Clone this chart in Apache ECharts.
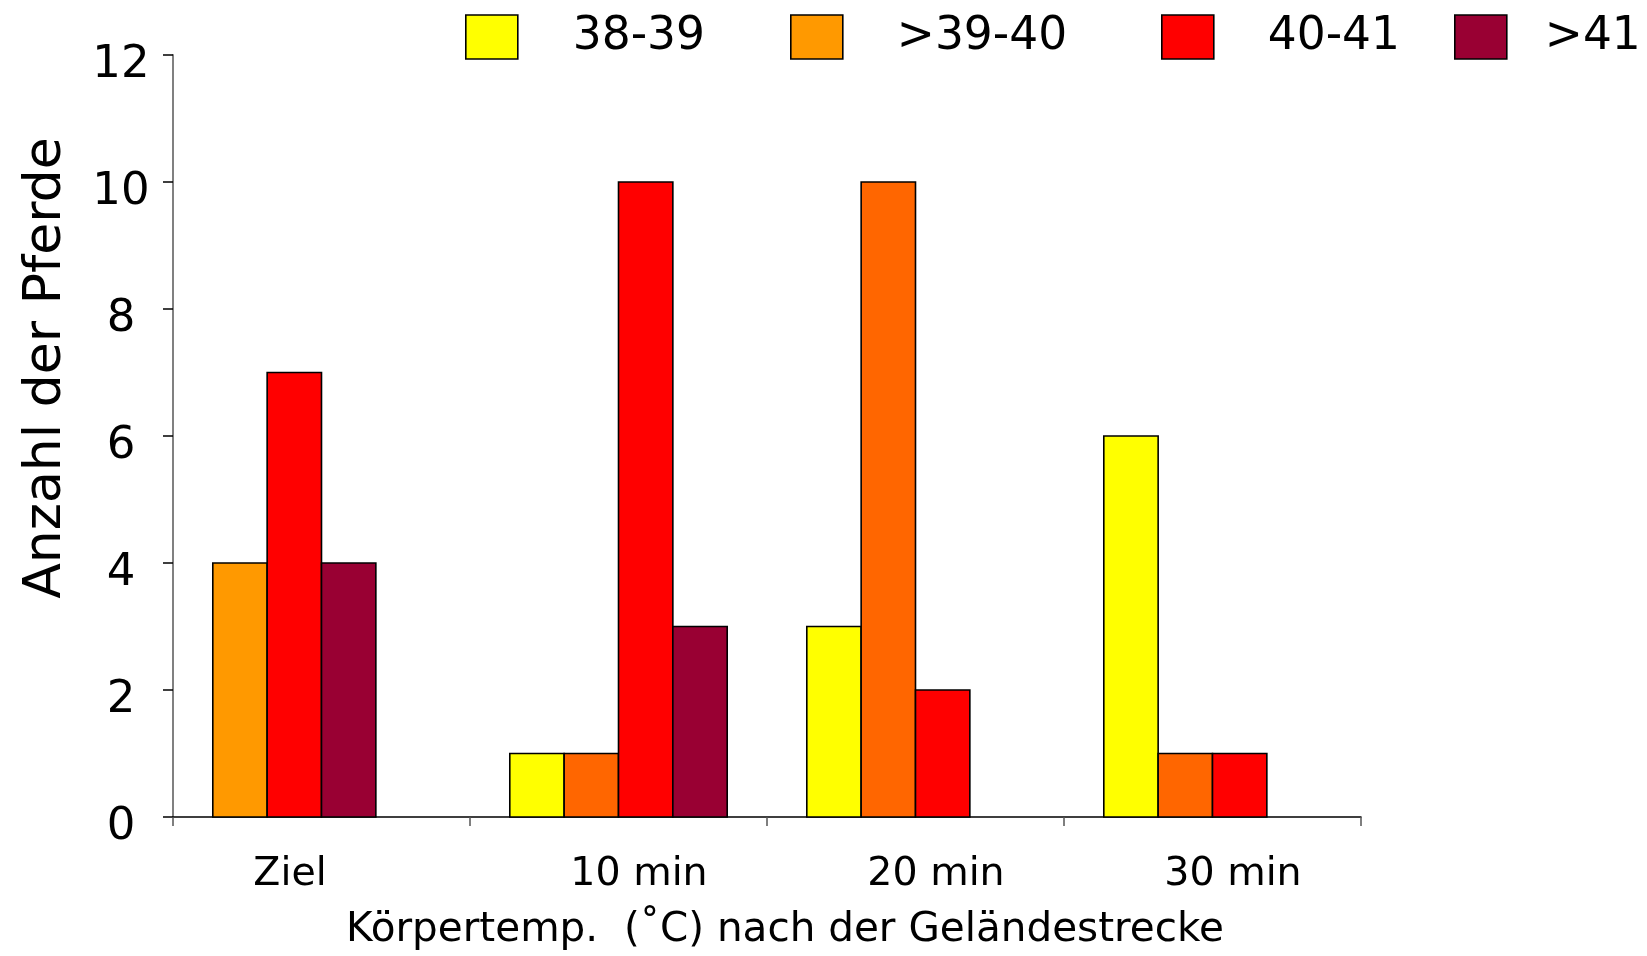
<!DOCTYPE html>
<html>
<head>
<meta charset="utf-8">
<script src="https://cdn.jsdelivr.net/npm/echarts@6/dist/echarts.min.js"></script>
<style>
  html, body { margin: 0; padding: 0; background: #fff; }
  #chart { width: 1647px; height: 956px; }
</style>
</head>
<body>
<div id="chart"></div>
<script>
// ---- Data ----
const categories = ['Ziel', '10 min', '20 min', '30 min'];
const seriesNames = ['38-39', '>39-40', '40-41', '>41'];
const values_38_39 = [null, 1, 3, 6];
const values_39_40 = [4, 1, 10, 1];
const values_40_41 = [7, 10, 2, 1];
const values_41 = [4, 3, null, null];
const yTicks = [0, 2, 4, 6, 8, 10, 12];
const xAxisTitle = 'Körpertemp.  (˚C) nach der Geländestrecke';
const yAxisTitle = 'Anzahl der Pferde';

// ---- Styles ----
const seriesColors = ['#FFFF00', '#FF9900', '#FF0000', '#990033'];
const itemColorOverrides = { 1: ['#FF9900', '#FF6600', '#FF6600', '#FF6600'] };
const FONT = 'DejaVu Sans';

const allValues = [values_38_39, values_39_40, values_40_41, values_41];

// slot of each series in each category: bars packed from the left of the group
const slotOf = allValues.map(() => []);
categories.forEach((c, ci) => {
  let k = 0;
  allValues.forEach((vals, si) => {
    if (vals[ci] != null) { slotOf[si][ci] = k; k++; }
  });
});

const BAR_RATIO = 0.183;
const N_SLOTS = 4;

function makeRender(si) {
  return function (params, api) {
    const ci = api.value(0);
    const v = api.value(1);
    const band = api.size([1, 0])[0];
    const bw = band * BAR_RATIO;
    const base = api.coord([ci, 0]);
    const top = api.coord([ci, v]);
    const x0 = base[0] - (N_SLOTS / 2) * bw + slotOf[si][ci] * bw;
    const ov = itemColorOverrides[si];
    const fill = ov ? ov[ci] : seriesColors[si];
    return {
      type: 'rect',
      shape: { x: x0, y: top[1], width: bw, height: base[1] - top[1] },
      style: { fill: fill, stroke: '#000', lineWidth: 1.6 }
    };
  };
}

const series = allValues.map((vals, si) => ({
  name: seriesNames[si],
  type: 'custom',
  renderItem: makeRender(si),
  encode: { x: 0, y: 1 },
  itemStyle: { color: seriesColors[si], borderColor: '#000', borderWidth: 1.6 },
  data: vals.map((v, i) => (v == null ? null : [i, v])).filter(d => d !== null)
}));

const legendPos = [
  { left: 460, pad: 50 },
  { left: 785, pad: 49 },
  { left: 1156, pad: 49 },
  { left: 1449, pad: 33 }
];
const legends = seriesNames.map((n, i) => ({
  data: [n],
  left: legendPos[i].left,
  top: 9,
  orient: 'horizontal',
  itemWidth: 52,
  itemHeight: 44,
  icon: 'rect',
  selectedMode: false,
  itemStyle: { borderColor: '#000', borderWidth: 1.6 },
  textStyle: { fontFamily: FONT, fontSize: 45.5, color: '#000', padding: [0, 0, 12, legendPos[i].pad] }
}));

const chart = echarts.init(document.getElementById('chart'), null, { renderer: 'canvas' });
chart.setOption({
  backgroundColor: '#fff',
  animation: false,
  legend: legends,
  grid: { left: 173, right: 286, top: 55, bottom: 135, containLabel: false },
  xAxis: {
    type: 'category',
    data: categories,
    boundaryGap: true,
    axisLine: { lineStyle: { color: '#000', width: 1.5 } },
    axisTick: { show: true, length: 9, lineStyle: { color: '#555', width: 1.5 } },
    axisLabel: {
      interval: 0,
      margin: 38,
      fontFamily: FONT,
      fontSize: 39.5,
      color: '#000',
      formatter: function (val, idx) { return idx === 0 ? '{z|' + val + '}' : '{m|' + val + '}'; },
      rich: {
        z: { fontFamily: FONT, fontSize: 39.5, color: '#000', padding: [0, 63, 0, 0] },
        m: { fontFamily: FONT, fontSize: 39.5, color: '#000', padding: [0, 0, 0, 41] }
      }
    },
    name: xAxisTitle,
    nameLocation: 'middle',
    nameGap: 93,
    nameTextStyle: { fontFamily: FONT, fontSize: 40.5, color: '#000', padding: [0, 0, 0, 36] }
  },
  yAxis: {
    type: 'value',
    min: yTicks[0],
    max: yTicks[yTicks.length - 1],
    interval: 2,
    splitLine: { show: false },
    axisLine: { show: true, lineStyle: { color: '#808080', width: 2 } },
    axisTick: { show: true, inside: false, length: 10, lineStyle: { color: '#000', width: 1.5 } },
    axisLabel: {
      margin: 52,
      align: 'center',
      fontFamily: FONT,
      fontSize: 45,
      color: '#000',
      verticalAlign: 'top',
      lineHeight: 20
    },
    name: yAxisTitle,
    nameLocation: 'middle',
    nameRotate: 90,
    nameGap: 101,
    nameTextStyle: { fontFamily: FONT, fontSize: 52, color: '#000', padding: [0, 0, 0, 136] }
  },
  series: series
});
</script>
</body>
</html>
